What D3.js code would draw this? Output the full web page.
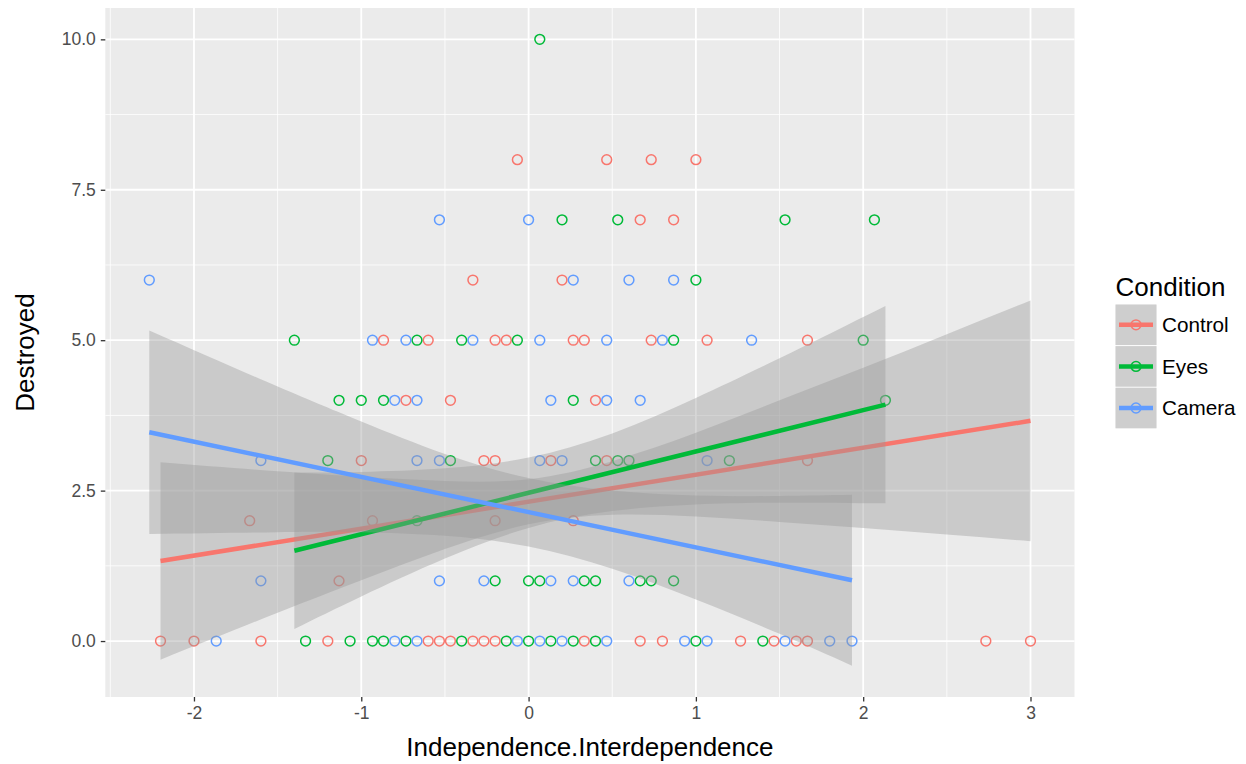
<!DOCTYPE html>
<html>
<head>
<meta charset="utf-8">
<script src="https://cdn.jsdelivr.net/npm/d3@7"></script>
<style>
  body { margin: 0; background: #ffffff; }
  text { font-family: "Liberation Sans", Arial, Helvetica, sans-serif; }
</style>
</head>
<body>
<svg id="vis" width="1246" height="764"></svg>
<script>
// points (x = Independence.Interdependence, y = Destroyed)
var controlX = [-0.067, 0.467, 0.733, 1.0,
  0.667, 0.867,
  -0.333, 0.2,
  -0.867, -0.6, -0.2, -0.133, 0.267, 0.333, 0.733, 1.067, 1.667,
  -0.733, -0.467, 0.4,
  -1.0, -0.267, -0.2, 0.133, 0.467, 1.667,
  -1.667, -0.933, -0.2, 0.267,
  -1.133,
  -2.2, -2.0, -1.6, -1.2, -0.6, -0.533, -0.467, -0.333, -0.267, -0.2, 0.333, 0.667, 0.8, 1.267, 1.467, 1.6, 1.667, 2.733, 3.0];
var controlY = [8, 8, 8, 8,
  7, 7,
  6, 6,
  5, 5, 5, 5, 5, 5, 5, 5, 5,
  4, 4, 4,
  3, 3, 3, 3, 3, 3,
  2, 2, 2, 2,
  1,
  0, 0, 0, 0, 0, 0, 0, 0, 0, 0, 0, 0, 0, 0, 0, 0, 0, 0, 0];

var eyesX = [0.067,
  0.2, 0.533, 1.533, 2.067,
  1.0,
  -1.4, -0.667, -0.4, -0.067, 0.867, 2.0,
  -1.133, -1.0, -0.867, 0.267, 2.133,
  -1.2, -0.467, 0.4, 0.533, 0.6, 1.2,
  -0.667,
  -0.2, 0, 0.067, 0.333, 0.4, 0.667, 0.733, 0.867,
  -1.333, -1.067, -0.933, -0.867, -0.733, -0.4, -0.133, 0, 0.133, 0.267, 0.4, 1.0, 1.4];
var eyesY = [10,
  7, 7, 7, 7,
  6,
  5, 5, 5, 5, 5, 5,
  4, 4, 4, 4, 4,
  3, 3, 3, 3, 3, 3,
  2,
  1, 1, 1, 1, 1, 1, 1, 1,
  0, 0, 0, 0, 0, 0, 0, 0, 0, 0, 0, 0, 0];

var cameraX = [-0.533, 0,
  -2.267, 0.267, 0.6, 0.867,
  -0.933, -0.733, -0.333, 0.067, 0.467, 0.8, 1.333,
  -0.8, -0.667, 0.133, 0.467, 0.667,
  -1.6, -0.667, -0.533, 0.067, 0.2, 1.067,
  -1.6, -0.533, -0.267, 0.133, 0.267, 0.6,
  -1.867, -0.8, -0.667, -0.067, 0.067, 0.2, 0.467, 0.933, 1.067, 1.533, 1.8, 1.933];
var cameraY = [7, 7,
  6, 6, 6, 6,
  5, 5, 5, 5, 5, 5, 5,
  4, 4, 4, 4, 4,
  3, 3, 3, 3, 3, 3,
  1, 1, 1, 1, 1, 1,
  0, 0, 0, 0, 0, 0, 0, 0, 0, 0, 0, 0];

// fitted lines (end points) and confidence bands
var controlFitX = [-2.2, 3.0];
var controlFitY = [1.33, 3.66];
var controlBandX = [-2.2, -1.5, -1, -0.5, 0, 0.5, 1, 1.5, 2, 2.5, 3];
var controlUpper = [2.97, 2.82, 2.73, 2.66, 2.69, 2.99, 3.46, 4.00, 4.54, 5.10, 5.66];
var controlLower = [-0.31, 0.47, 1.01, 1.53, 1.94, 2.10, 2.07, 1.98, 1.88, 1.77, 1.66];

var eyesFitX = [-1.4, 2.133];
var eyesFitY = [1.5, 3.93];
var eyesBandX = [-1.4, -1, -0.5, 0, 0.5, 1, 1.5, 2.133];
var eyesUpper = [2.80, 2.81, 2.87, 3.05, 3.45, 4.04, 4.70, 5.57];
var eyesLower = [0.20, 0.74, 1.37, 1.88, 2.16, 2.27, 2.30, 2.29];

var cameraFitX = [-2.267, 1.933];
var cameraFitY = [3.47, 1.01];
var cameraBandX = [-2.267, -1.5, -1, -0.5, 0, 0.5, 1, 1.5, 1.933];
var cameraUpper = [5.16, 4.23, 3.65, 3.11, 2.71, 2.50, 2.42, 2.41, 2.43];
var cameraLower = [1.78, 1.81, 1.81, 1.75, 1.57, 1.20, 0.69, 0.12, -0.41];

var groups = ["Control", "Eyes", "Camera"];
var colors = ["#F8766D", "#00BA38", "#619CFF"];
var xTicks = [-2, -1, 0, 1, 2, 3];
var yTicks = [0, 2.5, 5, 7.5, 10];

var svg = d3.select("#vis");

var margin = {top: 8, left: 105.3, right: 1246 - 1074.5, bottom: 764 - 697};
var plotWidth = 1246 - margin.left - margin.right;
var plotHeight = 764 - margin.top - margin.bottom;

// ggplot style 5% expansion
var xScale = d3.scaleLinear().domain([-2.530, 3.263]).range([0, plotWidth]);
var yScale = d3.scaleLinear().domain([-0.930, 10.521]).range([plotHeight, 0]);

var plot = svg.append("g").attr("id", "plot")
  .attr("transform", "translate(" + margin.left + "," + margin.top + ")");

plot.append("rect")
  .attr("width", plotWidth).attr("height", plotHeight)
  .attr("fill", "#EBEBEB");

// minor grid
var xMinor = xTicks.map(function(d){ return d - 0.5; }).filter(function(d){ return d > -2.53; });
var yMinor = yTicks.map(function(d){ return d + 1.25; }).filter(function(d){ return d < 10; });
plot.selectAll(".xminor").data(xMinor).enter().append("line")
  .attr("x1", function(d){ return xScale(d); }).attr("x2", function(d){ return xScale(d); })
  .attr("y1", 0).attr("y2", plotHeight)
  .attr("stroke", "#ffffff").attr("stroke-width", 0.8);
plot.selectAll(".yminor").data(yMinor).enter().append("line")
  .attr("y1", function(d){ return yScale(d); }).attr("y2", function(d){ return yScale(d); })
  .attr("x1", 0).attr("x2", plotWidth)
  .attr("stroke", "#ffffff").attr("stroke-width", 0.8);
// major grid
plot.selectAll(".xmajor").data(xTicks).enter().append("line")
  .attr("x1", function(d){ return xScale(d); }).attr("x2", function(d){ return xScale(d); })
  .attr("y1", 0).attr("y2", plotHeight)
  .attr("stroke", "#ffffff").attr("stroke-width", 1.8);
plot.selectAll(".ymajor").data(yTicks).enter().append("line")
  .attr("y1", function(d){ return yScale(d); }).attr("y2", function(d){ return yScale(d); })
  .attr("x1", 0).attr("x2", plotWidth)
  .attr("stroke", "#ffffff").attr("stroke-width", 1.8);

// points
var pointSets = [
  d3.zip(controlX, controlY),
  d3.zip(eyesX, eyesY),
  d3.zip(cameraX, cameraY)
];
pointSets.forEach(function(pts, i){
  plot.append("g").selectAll("circle").data(pts).enter().append("circle")
    .attr("cx", function(d){ return xScale(d[0]); })
    .attr("cy", function(d){ return yScale(d[1]); })
    .attr("r", 4.9)
    .attr("fill", "none")
    .attr("stroke", colors[i])
    .attr("stroke-width", 1.5);
});

// smooths: ribbon then line, one group at a time
var bands = [
  {x: controlBandX, hi: controlUpper, lo: controlLower, fx: controlFitX, fy: controlFitY},
  {x: eyesBandX, hi: eyesUpper, lo: eyesLower, fx: eyesFitX, fy: eyesFitY},
  {x: cameraBandX, hi: cameraUpper, lo: cameraLower, fx: cameraFitX, fy: cameraFitY}
];
var area = d3.area()
  .x(function(d){ return xScale(d[0]); })
  .y0(function(d){ return yScale(d[2]); })
  .y1(function(d){ return yScale(d[1]); })
  .curve(d3.curveNatural);
var line = d3.line()
  .x(function(d){ return xScale(d[0]); })
  .y(function(d){ return yScale(d[1]); });

bands.forEach(function(b, i){
  plot.append("path")
    .attr("d", area(d3.zip(b.x, b.hi, b.lo)))
    .attr("fill", "#999999")
    .attr("fill-opacity", 0.4);
  plot.append("path")
    .attr("d", line(d3.zip(b.fx, b.fy)))
    .attr("stroke", colors[i])
    .attr("stroke-width", 4.5)
    .attr("fill", "none");
});

// axes
var xAxis = d3.axisBottom(xScale).tickValues(xTicks).tickSize(4.5).tickPadding(5)
  .tickFormat(d3.format("d"));
var xGroup = plot.append("g").attr("id", "x-axis")
  .attr("transform", "translate(0," + plotHeight + ")")
  .call(xAxis);
var yAxis = d3.axisLeft(yScale).tickValues(yTicks).tickSize(4.5).tickPadding(5)
  .tickFormat(d3.format(".1f"));
var yGroup = plot.append("g").attr("id", "y-axis").call(yAxis);

[xGroup, yGroup].forEach(function(g){
  g.select(".domain").remove();
  g.selectAll(".tick line").attr("stroke", "#333333").attr("stroke-width", 1.3);
  g.selectAll(".tick text")
    .attr("fill", "#4D4D4D")
    .style("font-size", "17.5px")
    .style("font-family", "'Liberation Sans', Arial, sans-serif");
});
xGroup.selectAll(".tick text").text(function(d){ return d < 0 ? "-" + Math.abs(d) : d; });

svg.append("text")
  .attr("x", margin.left + plotWidth / 2)
  .attr("y", 756)
  .style("text-anchor", "middle")
  .style("font-size", "26px")
  .attr("fill", "#000000")
  .text("Independence.Interdependence");

svg.append("text")
  .attr("transform", "rotate(-90)")
  .attr("x", -(margin.top + plotHeight / 2))
  .attr("y", 34)
  .style("text-anchor", "middle")
  .style("font-size", "26px")
  .attr("fill", "#000000")
  .text("Destroyed");

// legend
var legend = svg.append("g").attr("id", "legend").attr("transform", "translate(1115.5,0)");
legend.append("text")
  .attr("x", 0).attr("y", 296)
  .style("font-size", "26px")
  .text("Condition");

var keys = legend.selectAll(".key").data(groups).enter().append("g")
  .attr("transform", function(d, i){ return "translate(0," + (304.5 + i * 41.6) + ")"; });
keys.append("rect")
  .attr("width", 41).attr("height", 40.6)
  .attr("fill", "#F2F2F2");
keys.append("rect")
  .attr("width", 41).attr("height", 40.6)
  .attr("fill", "#999999").attr("fill-opacity", 0.4);
keys.append("circle")
  .attr("cx", 20.5).attr("cy", 20.3).attr("r", 4.9)
  .attr("fill", "none")
  .attr("stroke", function(d, i){ return colors[i]; })
  .attr("stroke-width", 1.5);
keys.append("line")
  .attr("x1", 3.5).attr("x2", 37.5).attr("y1", 20.3).attr("y2", 20.3)
  .attr("stroke", function(d, i){ return colors[i]; })
  .attr("stroke-width", 4.5);
keys.append("text")
  .attr("x", 46.5).attr("y", 20.3).attr("dy", "0.36em")
  .style("font-size", "20.7px")
  .text(function(d){ return d; });
</script>
</body>
</html>
